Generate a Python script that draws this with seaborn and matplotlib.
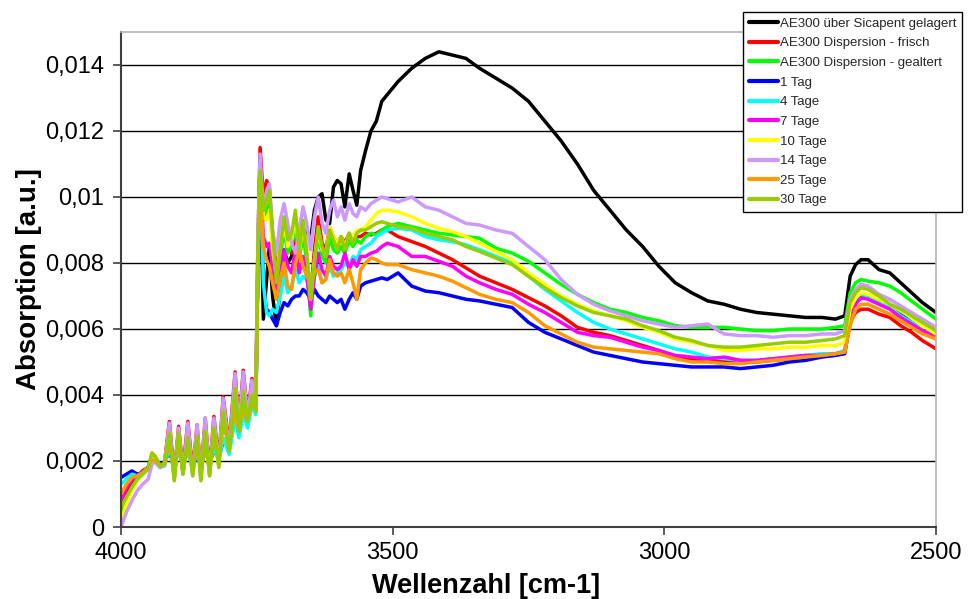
import numpy as np
import pandas as pd
import matplotlib
matplotlib.use("Agg")
import matplotlib.pyplot as plt
import seaborn as sns
from matplotlib.lines import Line2D

# ---------------- data (absorption values in units of 1e-3 a.u.) ----------------
wavenumber = [4000, 3990, 3980, 3970, 3960, 3950,
              3943, 3937, 3928, 3920,
              3911, 3902, 3894, 3886, 3877, 3868, 3860, 3853, 3845, 3837,
              3829, 3820, 3812, 3801, 3790, 3783, 3775, 3767, 3759, 3752,
              3748, 3744, 3738, 3732, 3727, 3721, 3714, 3707, 3700, 3693, 3686, 3679,
              3672, 3665, 3658, 3651, 3644, 3637, 3630, 3623, 3616, 3609, 3602,
              3595, 3588, 3580, 3573, 3566, 3559, 3550, 3540, 3530, 3520, 3510,
              3490, 3465, 3440, 3415, 3390, 3365, 3340,
              3310, 3280, 3250, 3220, 3190, 3160, 3130, 3100, 3070, 3040, 3010, 2980,
              2950, 2920, 2890, 2860, 2830, 2800, 2770, 2740, 2710, 2685, 2668, 2658,
              2648, 2638, 2625, 2605, 2585, 2565, 2545, 2525, 2500]

sicapent = [0.4, 0.9, 1.3, 1.5, 1.7, 1.8,
            2.0, 2.0, 1.85, 1.9,
            2.6, 1.6, 2.6, 1.7, 2.6, 1.7, 2.6, 1.6, 2.7, 1.7, 2.8, 2.0, 3.3, 2.5, 4.0, 3.0, 4.0, 3.3, 4.0, 3.6,
            8.0, 11.0, 6.3, 7.5, 8.5, 7.0, 6.1, 7.2, 8.4, 8.0, 8.2, 8.8, 8.3, 8.8, 9.0, 8.7, 9.6, 10.0, 10.1, 9.3, 9.2, 10.3, 10.5,
            10.4, 9.7, 10.7, 10.2, 9.75, 10.8, 11.4, 12.0, 12.3, 12.9, 13.1,
            13.5, 13.9, 14.2, 14.4, 14.3, 14.2, 13.9,
            13.6, 13.3, 12.9, 12.3, 11.7, 11.0, 10.2, 9.6, 9.0, 8.5, 7.9, 7.4,
            7.1, 6.85, 6.75, 6.6, 6.5, 6.45, 6.4, 6.35, 6.35, 6.3, 6.4, 7.6,
            7.95, 8.1, 8.1, 7.8, 7.7, 7.4, 7.1, 6.8, 6.5]

frisch = [0.7, 1.1, 1.4, 1.5, 1.7, 1.8,
          2.2, 2.1, 1.85, 1.95,
          3.2, 1.6, 3.05, 1.75, 3.2, 1.7, 3.1, 1.6, 3.3, 1.7, 3.35, 2.0, 3.95, 2.5, 4.7, 3.1, 4.75, 3.4, 4.5, 3.9,
          8.6, 11.5, 10.0, 10.5, 10.3, 8.8, 7.8, 8.3, 9.2, 8.5, 8.3, 9.0, 8.3, 9.0, 8.2, 7.0, 8.4, 9.4, 8.6, 8.4, 9.1, 8.8, 8.6,
          8.8, 8.6, 8.9, 8.7, 8.8, 8.8, 8.9, 8.85, 8.9, 9.0, 9.0,
          8.8, 8.65, 8.5, 8.3, 8.1, 7.85, 7.6,
          7.4, 7.2, 6.95, 6.7, 6.4, 6.05, 5.9, 5.8, 5.65, 5.5, 5.35, 5.15,
          5.1, 5.05, 5.05, 5.0, 5.0, 5.05, 5.1, 5.15, 5.2, 5.25, 5.3, 6.2,
          6.5, 6.6, 6.6, 6.45, 6.35, 6.1, 5.9, 5.65, 5.4]

gealtert = [0.3, 0.8, 1.2, 1.45, 1.65, 1.8,
            2.15, 2.05, 1.85, 1.9,
            2.95, 1.45, 2.9, 1.6, 2.8, 1.6, 2.85, 1.45, 3.0, 1.6, 3.05, 1.85, 3.6, 2.35, 4.3, 2.95, 4.2, 3.25, 4.1, 3.6,
            8.3, 10.6, 9.3, 9.6, 9.8, 8.6, 7.5, 8.2, 9.0, 8.3, 8.5, 9.1, 8.1, 8.9, 8.0, 6.4, 7.8, 8.9, 8.2, 8.0, 8.8, 8.4, 8.3,
            8.5, 8.3, 8.7, 8.5, 8.7, 8.6, 8.8, 8.9, 8.85, 9.0, 9.1,
            9.2, 9.1, 9.0, 8.9, 8.85, 8.8, 8.75,
            8.45, 8.3, 8.05, 7.7, 7.35, 7.05, 6.8, 6.6, 6.5, 6.35, 6.25, 6.1,
            6.05, 6.05, 6.05, 6.0, 5.95, 5.95, 6.0, 6.0, 6.0, 6.05, 6.1, 7.1,
            7.4, 7.5, 7.45, 7.4, 7.3, 7.1, 6.85, 6.6, 6.3]

tag_1 = [1.5, 1.6, 1.7, 1.6, 1.65, 1.75,
         2.1, 2.05, 1.9, 1.95,
         2.3, 1.8, 2.4, 1.85, 2.35, 1.8, 2.25, 1.85, 2.3, 1.95, 2.3, 2.1, 2.6, 2.4, 3.3, 2.9, 3.5, 3.2, 3.8, 3.5,
         8.0, 11.2, 7.2, 6.6, 6.5, 6.3, 6.1, 6.5, 6.8, 6.7, 6.9, 7.0, 7.0, 7.2, 7.1, 6.9, 7.2, 7.0, 6.9, 6.8, 7.0, 6.9, 6.8,
         6.9, 6.6, 6.9, 7.1, 6.9, 7.3, 7.4, 7.45, 7.5, 7.55, 7.5,
         7.7, 7.3, 7.15, 7.1, 7.0, 6.9, 6.85,
         6.75, 6.65, 6.2, 5.9, 5.7, 5.5, 5.3, 5.2, 5.1, 5.0, 4.95, 4.9,
         4.85, 4.85, 4.85, 4.8, 4.85, 4.9, 5.0, 5.05, 5.15, 5.2, 5.25, 6.3,
         6.8, 6.95, 6.95, 6.85, 6.65, 6.45, 6.2, 5.95, 5.8]

tage_4 = [1.3, 1.45, 1.6, 1.55, 1.65, 1.8,
          2.0, 1.95, 1.8, 1.85,
          2.4, 1.75, 2.4, 1.8, 2.35, 1.8, 2.3, 1.8, 2.35, 1.85, 2.4, 2.0, 2.7, 2.2, 3.3, 2.7, 3.4, 3.0, 3.7, 3.4,
          8.1, 10.9, 7.4, 6.5, 6.4, 6.6, 6.5, 7.0, 7.6, 7.1, 7.3, 7.8, 7.4, 7.6, 7.5, 6.9, 7.6, 7.9, 7.4, 7.5, 7.9, 7.6, 7.7,
          7.8, 8.0, 7.9, 8.2, 8.1, 8.4, 8.5, 8.6, 8.8, 8.9, 9.0,
          9.05, 9.0, 8.8, 8.7, 8.65, 8.55, 8.4,
          8.2, 8.0, 7.6, 7.2, 6.85, 6.5, 6.2, 6.0, 5.85, 5.7, 5.55, 5.4,
          5.3, 5.15, 5.1, 5.05, 5.05, 5.1, 5.15, 5.2, 5.25, 5.25, 5.35, 6.4,
          6.85, 7.0, 6.95, 6.8, 6.65, 6.4, 6.2, 5.95, 5.75]

tage_7 = [0.8, 1.2, 1.45, 1.55, 1.65, 1.8,
          2.1, 2.0, 1.85, 1.9,
          2.8, 1.55, 2.75, 1.7, 2.7, 1.65, 2.7, 1.6, 2.8, 1.7, 2.9, 1.95, 3.4, 2.4, 4.1, 3.0, 4.0, 3.3, 4.0, 3.6,
          8.2, 10.7, 8.8, 8.5, 8.6, 7.8, 7.2, 7.6, 8.4, 7.9, 7.7, 8.4, 7.7, 8.2, 7.6, 6.6, 7.6, 8.3, 7.8, 7.6, 8.2, 7.9, 7.8,
          7.9, 8.3, 7.8, 8.1, 7.9, 8.2, 8.2, 8.3, 8.35, 8.5, 8.6,
          8.5, 8.2, 8.2, 8.05, 7.9, 7.6, 7.4,
          7.2, 7.05, 6.75, 6.5, 6.2, 5.9, 5.8, 5.75, 5.6, 5.45, 5.35, 5.2,
          5.15, 5.1, 5.15, 5.05, 5.05, 5.1, 5.15, 5.2, 5.2, 5.25, 5.3, 6.3,
          6.75, 6.95, 6.9, 6.75, 6.6, 6.35, 6.15, 5.95, 5.75]

tage_10 = [0.2, 0.7, 1.1, 1.4, 1.6, 1.75,
           2.1, 2.0, 1.85, 1.9,
           2.9, 1.45, 2.85, 1.6, 2.75, 1.6, 2.8, 1.45, 2.95, 1.6, 3.0, 1.85, 3.55, 2.35, 4.25, 2.95, 4.15, 3.25, 4.05, 3.6,
           8.4, 10.8, 9.4, 9.3, 9.6, 8.4, 7.6, 8.5, 9.2, 8.5, 8.7, 9.4, 8.3, 9.2, 8.4, 6.9, 8.1, 9.0, 8.4, 8.3, 9.1, 8.8, 8.6,
           8.8, 8.5, 8.9, 8.8, 9.0, 9.0, 9.1, 9.3, 9.5, 9.6, 9.6,
           9.55, 9.4, 9.2, 9.05, 8.95, 8.8, 8.6,
           8.35, 8.1, 7.7, 7.35, 7.0, 6.75, 6.55, 6.4, 6.25, 6.05, 5.9, 5.7,
           5.6, 5.5, 5.35, 5.35, 5.4, 5.4, 5.45, 5.45, 5.5, 5.5, 5.6, 6.6,
           6.95, 7.1, 7.05, 6.9, 6.75, 6.55, 6.35, 6.1, 5.85]

tage_14 = [0.0, 0.45, 0.8, 1.1, 1.3, 1.45,
           1.9, 2.0, 1.8, 1.9,
           3.15, 1.45, 3.0, 1.6, 3.15, 1.55, 3.1, 1.45, 3.3, 1.55, 3.3, 1.85, 3.9, 2.35, 4.65, 2.95, 4.7, 3.3, 4.45, 3.7,
           8.8, 11.3, 9.6, 10.2, 10.4, 9.0, 8.3, 9.3, 9.8, 9.2, 8.6, 8.3, 9.0, 9.7, 9.2, 8.4, 9.4, 10.0, 9.2, 8.9, 9.6, 9.9, 9.4,
           9.7, 9.3, 9.8, 9.5, 9.4, 9.7, 9.6, 9.8, 9.9, 10.0, 9.95,
           9.85, 10.0, 9.7, 9.6, 9.4, 9.2, 9.15,
           9.0, 8.9, 8.5, 8.1, 7.5, 7.05, 6.75, 6.55, 6.4, 6.25, 6.15, 6.05,
           6.1, 6.15, 5.85, 5.8, 5.8, 5.75, 5.8, 5.8, 5.85, 5.85, 5.95, 6.9,
           7.2, 7.35, 7.3, 7.05, 6.9, 6.7, 6.5, 6.3, 6.05]

tage_25 = [1.0, 1.3, 1.5, 1.55, 1.65, 1.8,
           2.05, 2.0, 1.85, 1.9,
           2.6, 1.7, 2.6, 1.8, 2.5, 1.85, 2.5, 1.75, 2.6, 1.7, 2.7, 2.0, 3.2, 2.4, 3.6, 2.9, 3.6, 3.2, 3.8, 3.5,
           8.0, 10.5, 8.5, 8.1, 7.9, 7.4, 6.9, 7.5, 8.0, 7.3, 7.2, 8.0, 8.4, 7.9, 7.6, 7.4, 7.7, 7.8, 7.4, 7.5, 8.1, 7.7, 7.6,
           7.7, 7.4, 7.8, 7.4, 6.9, 7.8, 8.0, 8.15, 8.1, 8.0, 7.95,
           7.95, 7.8, 7.7, 7.6, 7.45, 7.25, 7.05,
           6.9, 6.8, 6.5, 6.1, 5.85, 5.6, 5.45, 5.4, 5.35, 5.3, 5.25, 5.1,
           5.0, 5.0, 4.95, 4.95, 5.0, 5.05, 5.1, 5.15, 5.2, 5.25, 5.3, 6.1,
           6.6, 6.75, 6.75, 6.6, 6.45, 6.25, 6.05, 5.85, 5.7]

tage_30 = [0.6, 0.9, 1.2, 1.45, 1.6, 1.75,
           2.25, 2.15, 1.85, 1.95,
           2.85, 1.4, 2.85, 1.6, 2.7, 1.55, 2.75, 1.4, 2.9, 1.55, 3.0, 1.8, 3.5, 2.3, 4.2, 2.9, 4.1, 3.2, 4.0, 3.5,
           8.5, 10.8, 9.6, 9.9, 10.2, 8.9, 7.4, 8.4, 9.4, 8.7, 8.9, 9.6, 8.4, 9.3, 8.3, 6.9, 8.0, 9.1, 8.5, 8.2, 9.0, 8.7, 8.4,
           8.8, 8.4, 8.9, 8.6, 8.9, 9.0, 9.0, 9.1, 9.2, 9.25, 9.2,
           9.1, 9.05, 8.9, 8.8, 8.7, 8.5, 8.35,
           8.15, 7.95, 7.6, 7.25, 6.95, 6.7, 6.5, 6.4, 6.3, 6.1, 5.95, 5.75,
           5.65, 5.5, 5.45, 5.45, 5.5, 5.55, 5.6, 5.6, 5.65, 5.7, 5.8, 6.8,
           7.1, 7.25, 7.2, 7.0, 6.75, 6.6, 6.4, 6.2, 5.95]

series_names = ["AE300 über Sicapent gelagert", "AE300 Dispersion - frisch",
                "AE300 Dispersion - gealtert", "1 Tag", "4 Tage", "7 Tage",
                "10 Tage", "14 Tage", "25 Tage", "30 Tage"]
series_values = [sicapent, frisch, gealtert, tag_1, tage_4, tage_7,
                 tage_10, tage_14, tage_25, tage_30]
series_colors = ["#000000", "#FF0000", "#00FF00", "#0000FF", "#00FFFF",
                 "#FF00FF", "#FFFF00", "#CC99FF", "#FF9900", "#99CC00"]

x_ticks = [4000, 3500, 3000, 2500]
y_ticks = [0, 0.002, 0.004, 0.006, 0.008, 0.010, 0.012, 0.014]
y_tick_labels = ["0", "0,002", "0,004", "0,006", "0,008", "0,01", "0,012", "0,014"]

# ---------------- build table ----------------
frames = []
for name, vals in zip(series_names, series_values):
    frames.append(pd.DataFrame({"Wellenzahl": wavenumber,
                                "Absorption": np.asarray(vals) / 1000.0,
                                "Serie": name}))
df = pd.concat(frames, ignore_index=True)

# ---------------- plot ----------------
sns.set_theme(style="white")
plt.rcParams['font.family'] = ['Liberation Sans', 'DejaVu Sans']

W, H = 971, 599
fig = plt.figure(figsize=(W / 100, H / 100), dpi=100)
ax = fig.add_axes([121 / W, 72 / H, 815 / W, 495 / H])

palette = dict(zip(series_names, series_colors))
sns.lineplot(data=df, x="Wellenzahl", y="Absorption", hue="Serie",
             hue_order=series_names, palette=palette, estimator=None,
             sort=False, linewidth=2.5, legend=False, ax=ax)

ax.set_xlim(4000, 2500)
ax.set_ylim(0, 0.015)
ax.set_xticks(x_ticks)
ax.set_xticklabels([str(t) for t in x_ticks])
ax.set_yticks(y_ticks)
ax.set_yticklabels(y_tick_labels)
ax.yaxis.grid(True, color="black", linewidth=1.0)
ax.xaxis.grid(False)
ax.set_axisbelow(True)

for side in ["top", "right"]:
    ax.spines[side].set_color("#b4b4b4")
    ax.spines[side].set_linewidth(1.2)
for side in ["left", "bottom"]:
    ax.spines[side].set_color("#404040")
    ax.spines[side].set_linewidth(1.5)

ax.tick_params(axis="both", direction="out", length=6, width=1.2,
               color="#404040", labelsize=17, labelcolor="black",
               left=True, bottom=True)
ax.tick_params(axis="x", pad=5)
ax.tick_params(axis="y", pad=6)

ax.set_xlabel("Wellenzahl [cm-1]", fontsize=19.5, fontweight="bold",
              labelpad=6, color="black")
ax.xaxis.label.set_x(0.448)
ax.set_ylabel("Absorption [a.u.]", fontsize=20, fontweight="bold",
              labelpad=2, color="black")

handles = [Line2D([0], [0], color=c, lw=3) for c in series_colors]
leg = fig.legend(handles, series_names, loc="upper left",
                 bbox_to_anchor=(743 / W, 1 - 12 / H), frameon=True,
                 fancybox=False, edgecolor="black", facecolor="white",
                 framealpha=1, fontsize=9.5, handlelength=2.2,
                 handletextpad=0.15, labelspacing=0.56, borderpad=0.42,
                 borderaxespad=0)
leg.get_frame().set_linewidth(1.0)

fig.savefig("out.png", dpi=100)
